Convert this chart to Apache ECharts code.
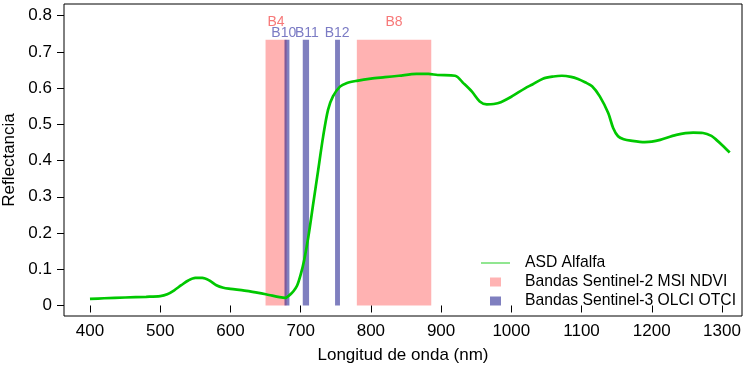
<!DOCTYPE html>
<html>
<head>
<meta charset="utf-8">
<script src="https://cdn.jsdelivr.net/npm/echarts@6/dist/echarts.min.js"></script>
<style>
html,body{margin:0;padding:0;background:#fff;}
#chart{width:749px;height:372px;}
</style>
</head>
<body>
<div id="chart"></div>
<script>
// Spectrum: wavelength (nm) and reflectance
var wavelengths = [400,420,450,480,500,510,520,530,540,550,560,570,580,590,600,620,640,655,670,678,685,690,695,700,705,711,718,725,732,739,746,756,766,780,800,820,840,865,882,895,920,932,944,955,965,975,985,1000,1020,1030,1045,1060,1072,1085,1095,1105,1115,1126,1138,1145,1152,1160,1170,1190,1200,1212,1235,1259,1273,1285,1292,1300,1311];
var reflectance = [0.018,0.020,0.022,0.024,0.026,0.031,0.042,0.056,0.069,0.076,0.076,0.069,0.056,0.049,0.046,0.041,0.035,0.029,0.023,0.021,0.030,0.040,0.055,0.085,0.125,0.190,0.282,0.374,0.466,0.540,0.577,0.604,0.614,0.620,0.626,0.630,0.634,0.639,0.639,0.636,0.634,0.613,0.590,0.563,0.555,0.556,0.561,0.576,0.600,0.610,0.626,0.632,0.634,0.631,0.625,0.616,0.605,0.577,0.531,0.490,0.467,0.459,0.455,0.451,0.452,0.457,0.471,0.477,0.476,0.468,0.457,0.443,0.422];

// Bands: [start nm, end nm, top reflectance]
var s2Bands = [[650,680,0.733],[780,886,0.733]];
var s3Bands = [[677,684,0.733],[703,712,0.733],[749,756,0.733]];
// Band labels: names and [x nm, y reflectance]
var s2LabelNames = ['B4','B8'];
var s2LabelPos = [[665,0.783],[833,0.783]];
var s3LabelNames = ['B10','B11','B12'];
var s3LabelPos = [[676,0.751],[709,0.751],[752,0.751]];

var xTicks = [400,500,600,700,800,900,1000,1100,1200,1300];
var yTicks = [0,0.1,0.2,0.3,0.4,0.5,0.6,0.7,0.8];

var FONT = '"Liberation Sans", Arial, sans-serif';
var S2_FILL = 'rgba(255,0,0,0.3)';
var S3_FILL = 'rgba(0,0,128,0.5)';
var S2_TEXT = '#F77878';
var S3_TEXT = '#7B7BC4';
var LINE_COLOR = '#00C800';

function bandRender(fill) {
  return function (params, api) {
    var p0 = api.coord([api.value(0), api.value(2)]);
    var p1 = api.coord([api.value(1), 0]);
    return {type:'rect', shape:{x:p0[0], y:p0[1], width:p1[0]-p0[0], height:p1[1]-p0[1]}, style:{fill:fill}};
  };
}
function labelRender(names, color) {
  return function (params, api) {
    var p = api.coord([api.value(0), api.value(1)]);
    return {type:'text', x:p[0], y:p[1], style:{text: names[params.dataIndex], fill:color, font:'14px ' + FONT, align:'center', verticalAlign:'middle'}};
  };
}

var chart = echarts.init(document.getElementById('chart'), null, {renderer:'canvas'});
chart.setOption({
  animation:false,
  backgroundColor:'#fff',
  textStyle:{fontFamily:FONT},
  grid:{left:64, right:7, top:4, bottom:56, show:true, borderColor:'#000', borderWidth:1, backgroundColor:'transparent', containLabel:false, outerBoundsMode:'none'},
  xAxis:{
    type:'value', min:363, max:1328.5,
    name:'Longitud de onda (nm)', nameLocation:'middle', nameGap:31,
    nameTextStyle:{fontSize:17, color:'#000', fontFamily:FONT},
    axisLine:{show:false},
    splitLine:{show:false},
    axisTick:{show:true, length:7, lineStyle:{color:'#000'}, customValues:xTicks},
    axisLabel:{fontSize:17, color:'#000', margin:7, fontFamily:FONT, customValues:xTicks,
      formatter:function(v){ return String(v); }}
  },
  yAxis:{
    type:'value', min:-0.029, max:0.832,
    name:'Reflectancia', nameLocation:'middle', nameGap:41, nameRotate:90,
    nameTextStyle:{fontSize:17, color:'#000', fontFamily:FONT},
    axisLine:{show:false},
    splitLine:{show:false},
    axisTick:{show:true, length:7, lineStyle:{color:'#000'}, customValues:yTicks},
    axisLabel:{fontSize:17, color:'#000', margin:12, fontFamily:FONT, customValues:yTicks,
      formatter:function(v){ return Math.abs(v) < 1e-9 ? '0' : v.toFixed(1); }}
  },
  legend:{
    orient:'vertical', left:466, top:250, itemWidth:49, itemHeight:12, itemGap:3,
    textStyle:{fontSize:15.7, color:'#000', fontFamily:FONT},
    data:[
      {name:'ASD Alfalfa', icon:'path://M0,0M49,12M10,5.5h29v1h-29z', itemStyle:{color:'#22CC22'}},
      {name:'Bandas Sentinel-2 MSI NDVI', icon:'path://M0,0M49,12M19,1.5h11v9h-11z', itemStyle:{color:'#FFB3B3'}},
      {name:'Bandas Sentinel-3 OLCI OTCI', icon:'path://M0,0M49,12M19,1.5h11v9h-11z', itemStyle:{color:'#7F7FBF'}}
    ]
  },
  series:[
    {name:'Bandas Sentinel-2 MSI NDVI', type:'custom', renderItem:bandRender(S2_FILL), data:s2Bands, z:1, silent:true},
    {name:'Bandas Sentinel-3 OLCI OTCI', type:'custom', renderItem:bandRender(S3_FILL), data:s3Bands, z:2, silent:true},
    {name:'s2labels', type:'custom', renderItem:labelRender(s2LabelNames, S2_TEXT), data:s2LabelPos, z:3, silent:true},
    {name:'s3labels', type:'custom', renderItem:labelRender(s3LabelNames, S3_TEXT), data:s3LabelPos, z:3, silent:true},
    {name:'ASD Alfalfa', type:'line', data:wavelengths.map(function(w,i){return [w, reflectance[i]];}),
      showSymbol:false, smooth:0.3, z:5, lineStyle:{color:LINE_COLOR, width:2.7}, itemStyle:{color:LINE_COLOR}}
  ]
});
</script>
</body>
</html>
